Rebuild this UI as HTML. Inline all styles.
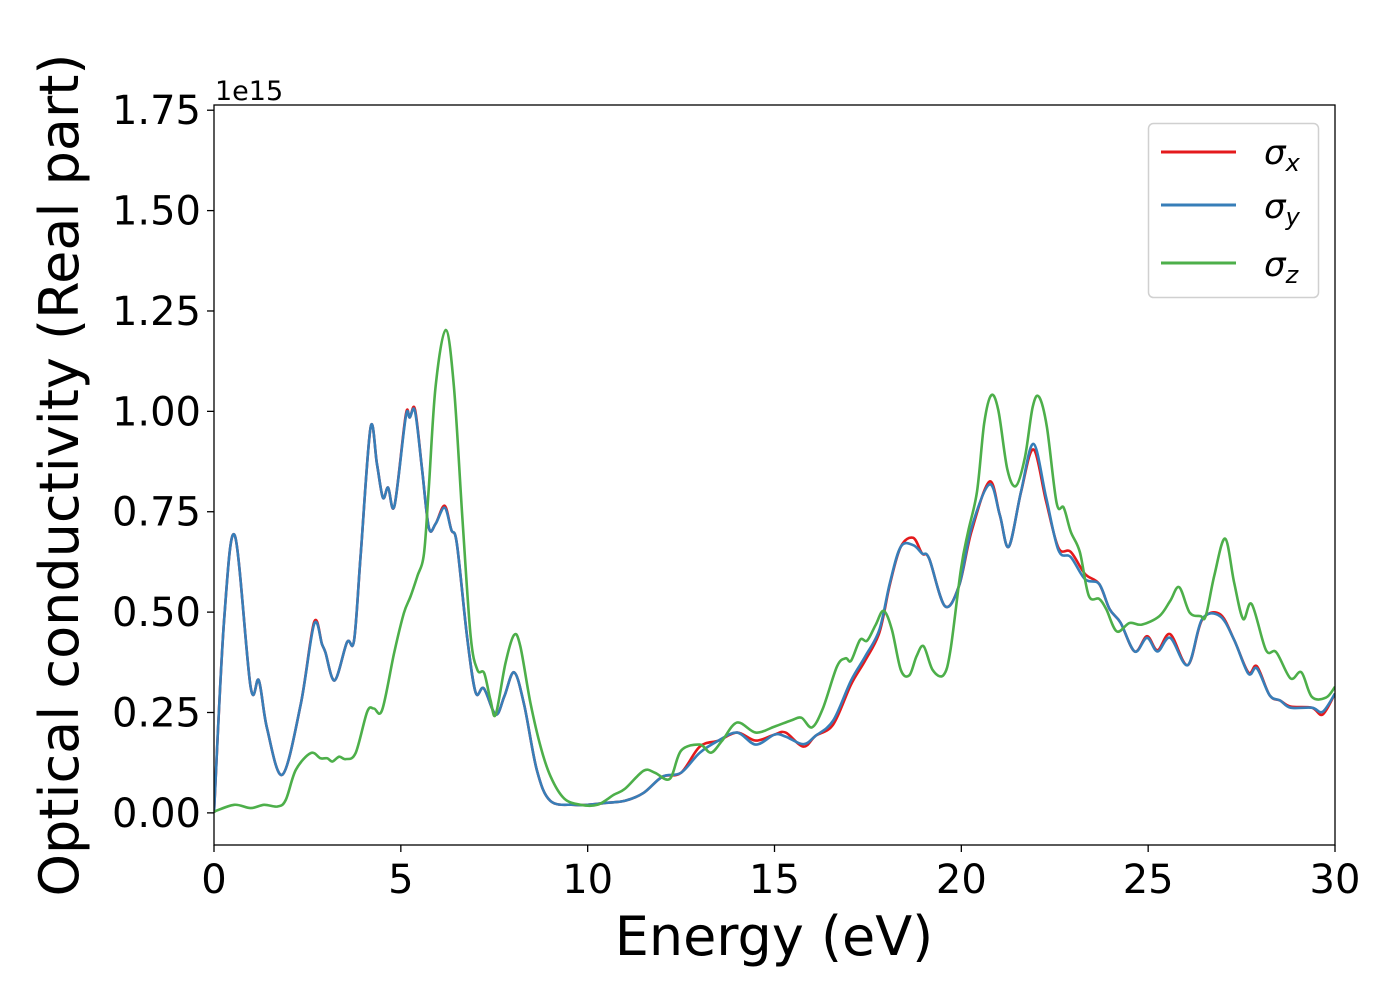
<!DOCTYPE html>
<html><head><meta charset="utf-8"><style>
html,body{margin:0;padding:0;background:#fff;}
svg{display:block;font-family:"DejaVu Sans","Liberation Sans",sans-serif;}
</style></head><body>
<svg id="chart" width="1400" height="1000" viewBox="0 0 1400 1000" xmlns="http://www.w3.org/2000/svg">
<rect width="1400" height="1000" fill="#fff"/>
<g id="series"></g>
<g id="axes"></g>
<text x="215" y="100" font-size="27">1e15</text>
<text x="774" y="955" font-size="54" text-anchor="middle">Energy (eV)</text>
<text transform="translate(78,475) rotate(-90)" font-size="54" text-anchor="middle">Optical conductivity (Real part)</text>
<g>
<rect x="1148.5" y="123.5" width="170" height="174" rx="5" fill="#fff" stroke="#d0d0d0" stroke-width="1.5"/>
<g><line x1="1161" y1="152" x2="1236" y2="152" stroke="#e41a1c" stroke-width="3"/><text x="1264" y="164" font-size="34" font-style="italic">σ<tspan font-size="24" dy="7">x</tspan></text></g>
<g><line x1="1161" y1="205" x2="1236" y2="205" stroke="#377eb8" stroke-width="3"/><text x="1264" y="218" font-size="34" font-style="italic">σ<tspan font-size="24" dy="7">y</tspan></text></g>
<g><line x1="1161" y1="263" x2="1236" y2="263" stroke="#4daf4a" stroke-width="3"/><text x="1264" y="276" font-size="34" font-style="italic">σ<tspan font-size="24" dy="7">z</tspan></text></g>
</g>
</svg>
<script>
const energyX=[0,0.27,0.56,0.98,1.2,1.42,1.83,2.32,2.68,2.89,2.98,3.23,3.56,3.75,3.93,4.19,4.36,4.52,4.66,4.83,5.13,5.24,5.38,5.57,5.75,5.93,6.17,6.35,6.5,6.77,7.0,7.22,7.54,7.77,8.03,8.3,8.64,9.0,9.63,10.0,10.5,11.0,11.5,12.0,12.5,13.0,13.5,14.0,14.5,15.0,15.3,15.77,16.1,16.57,17.05,17.43,17.81,18.09,18.38,18.71,18.95,19.14,19.56,19.94,20.27,20.75,21.03,21.27,21.6,21.93,22.27,22.6,22.93,23.31,23.69,23.97,24.26,24.64,24.97,25.25,25.59,26.06,26.44,26.92,27.3,27.68,27.91,28.25,28.53,28.81,29.38,29.67,30];
const sigmaY=[0,0.48,0.69,0.314,0.33,0.21,0.095,0.27,0.47,0.42,0.40,0.33,0.425,0.43,0.65,0.96,0.87,0.785,0.81,0.765,0.985,0.985,1.0,0.855,0.71,0.72,0.76,0.705,0.67,0.44,0.30,0.31,0.245,0.29,0.35,0.27,0.107,0.03,0.02,0.02,0.025,0.03,0.05,0.09,0.10,0.15,0.18,0.20,0.17,0.195,0.19,0.171,0.192,0.23,0.33,0.39,0.457,0.574,0.663,0.667,0.646,0.633,0.515,0.566,0.709,0.818,0.742,0.663,0.801,0.919,0.785,0.654,0.637,0.582,0.57,0.507,0.474,0.402,0.436,0.402,0.436,0.368,0.482,0.49,0.431,0.347,0.36,0.293,0.28,0.262,0.262,0.252,0.297];
const sigmaX=[0,0.48,0.69,0.314,0.33,0.21,0.095,0.27,0.475,0.42,0.40,0.33,0.425,0.43,0.65,0.96,0.87,0.785,0.81,0.765,0.99,0.985,1.005,0.855,0.71,0.72,0.765,0.705,0.67,0.44,0.30,0.31,0.245,0.29,0.35,0.27,0.107,0.03,0.02,0.02,0.025,0.03,0.05,0.09,0.10,0.165,0.18,0.20,0.18,0.195,0.20,0.165,0.192,0.22,0.32,0.38,0.45,0.57,0.663,0.685,0.646,0.633,0.515,0.566,0.70,0.825,0.742,0.663,0.80,0.905,0.775,0.66,0.65,0.595,0.57,0.507,0.474,0.402,0.44,0.405,0.445,0.368,0.48,0.495,0.431,0.35,0.365,0.293,0.28,0.265,0.262,0.245,0.297];
const energyZ=[0,0.54,0.98,1.34,1.7,1.92,2.19,2.59,2.85,3.03,3.17,3.35,3.52,3.79,4.1,4.28,4.5,4.82,5.08,5.26,5.44,5.62,5.75,5.93,6.2,6.42,6.65,6.87,7.05,7.23,7.4,7.54,7.8,8.03,8.2,8.47,8.74,9.01,9.37,9.81,10.26,10.7,11.0,11.5,11.8,12.2,12.5,13.0,13.3,13.6,14.0,14.5,15.0,15.44,15.72,16.0,16.29,16.67,16.9,17.05,17.29,17.48,17.71,17.92,18.14,18.38,18.61,18.8,18.99,19.23,19.52,19.71,19.99,20.18,20.42,20.61,20.8,20.99,21.23,21.46,21.7,21.91,22.08,22.29,22.55,22.74,22.93,23.17,23.41,23.69,23.88,24.16,24.5,24.83,25.3,25.59,25.83,26.11,26.4,26.54,26.77,27.06,27.3,27.54,27.77,28.15,28.43,28.81,29.1,29.38,29.76,30];
const sigmaZ=[0.003,0.02,0.012,0.02,0.016,0.032,0.107,0.149,0.136,0.136,0.128,0.14,0.134,0.149,0.252,0.26,0.256,0.398,0.497,0.539,0.589,0.646,0.813,1.062,1.203,1.062,0.73,0.439,0.356,0.348,0.281,0.245,0.373,0.443,0.414,0.273,0.165,0.09,0.036,0.02,0.02,0.045,0.06,0.105,0.1,0.085,0.155,0.17,0.15,0.18,0.225,0.2,0.215,0.23,0.237,0.213,0.259,0.364,0.385,0.379,0.431,0.429,0.469,0.503,0.457,0.356,0.343,0.39,0.415,0.356,0.343,0.406,0.608,0.70,0.80,0.969,1.04,1.003,0.856,0.814,0.885,1.011,1.036,0.961,0.772,0.76,0.70,0.65,0.541,0.533,0.507,0.452,0.473,0.469,0.49,0.528,0.562,0.499,0.49,0.49,0.591,0.683,0.574,0.483,0.52,0.406,0.40,0.335,0.35,0.289,0.287,0.314];
const xTicks=[0,5,10,15,20,25,30];
const yTicks=[0,0.25,0.5,0.75,1.0,1.25,1.5,1.75];
const yTickLabels=["0.00","0.25","0.50","0.75","1.00","1.25","1.50","1.75"];

const L=214,R=1335,T=105,B=845;
const xMin=0,xMax=30,yMin=-0.08,yMax=1.763;
const xs=v=>L+(v-xMin)/(xMax-xMin)*(R-L);
const ys=v=>B-(v-yMin)/(yMax-yMin)*(B-T);
const NS="http://www.w3.org/2000/svg";
function pathFor(ex,ey){
  const p=ex.map((e,i)=>[xs(e),ys(ey[i])]);
  let d="M"+p[0][0].toFixed(1)+","+p[0][1].toFixed(1);
  for(let i=0;i<p.length-1;i++){
    const p0=p[Math.max(0,i-1)],p1=p[i],p2=p[i+1],p3=p[Math.min(p.length-1,i+2)];
    const c1x=p1[0]+(p2[0]-p0[0])/6,c1y=p1[1]+(p2[1]-p0[1])/6;
    const c2x=p2[0]-(p3[0]-p1[0])/6,c2y=p2[1]-(p3[1]-p1[1])/6;
    d+=" C"+c1x.toFixed(1)+","+c1y.toFixed(1)+" "+c2x.toFixed(1)+","+c2y.toFixed(1)+" "+p2[0].toFixed(1)+","+p2[1].toFixed(1);
  }
  return d;
}
const sg=document.getElementById("series");
const clip=document.createElementNS(NS,"clipPath");clip.setAttribute("id","pc");
const cr=document.createElementNS(NS,"rect");cr.setAttribute("x",L);cr.setAttribute("y",T);cr.setAttribute("width",R-L);cr.setAttribute("height",B-T);
clip.appendChild(cr);sg.appendChild(clip);
function addLine(ex,ey,color,name){
  const el=document.createElementNS(NS,"path");
  el.setAttribute("d",pathFor(ex,ey));
  el.setAttribute("fill","none");el.setAttribute("stroke",color);el.setAttribute("stroke-width","2.6");
  el.setAttribute("stroke-linejoin","round");el.setAttribute("clip-path","url(#pc)");
  
  
  sg.appendChild(el);
}
addLine(energyX,sigmaX,"#e41a1c","sigma-x-line");
addLine(energyX,sigmaY,"#377eb8","sigma-y-line");
addLine(energyZ,sigmaZ,"#4daf4a","sigma-z-line");

const ag=document.getElementById("axes");
const frame=document.createElementNS(NS,"rect");
frame.setAttribute("x",L);frame.setAttribute("y",T);frame.setAttribute("width",R-L);frame.setAttribute("height",B-T);
frame.setAttribute("fill","none");frame.setAttribute("stroke","#000");frame.setAttribute("stroke-width","1.3");


ag.appendChild(frame);
xTicks.forEach(t=>{
  const x=xs(t);
  const ln=document.createElementNS(NS,"line");
  ln.setAttribute("x1",x);ln.setAttribute("x2",x);ln.setAttribute("y1",B);ln.setAttribute("y2",B+7);ln.setAttribute("stroke","#000");ln.setAttribute("stroke-width","1.3");
  
  
  ag.appendChild(ln);
  const tx=document.createElementNS(NS,"text");
  tx.setAttribute("x",x);tx.setAttribute("y",B+48);tx.setAttribute("font-size","40");tx.setAttribute("text-anchor","middle");
  tx.textContent=String(t);
  
  
  ag.appendChild(tx);
});
yTicks.forEach((t,i)=>{
  const y=ys(t);
  const ln=document.createElementNS(NS,"line");
  ln.setAttribute("x1",L-7);ln.setAttribute("x2",L);ln.setAttribute("y1",y);ln.setAttribute("y2",y);ln.setAttribute("stroke","#000");ln.setAttribute("stroke-width","1.3");
  
  
  ag.appendChild(ln);
  const tx=document.createElementNS(NS,"text");
  tx.setAttribute("x",L-13);tx.setAttribute("y",y+14);tx.setAttribute("font-size","40");tx.setAttribute("text-anchor","end");
  tx.textContent=yTickLabels[i];
  
  
  ag.appendChild(tx);
});
</script>
</body></html>
